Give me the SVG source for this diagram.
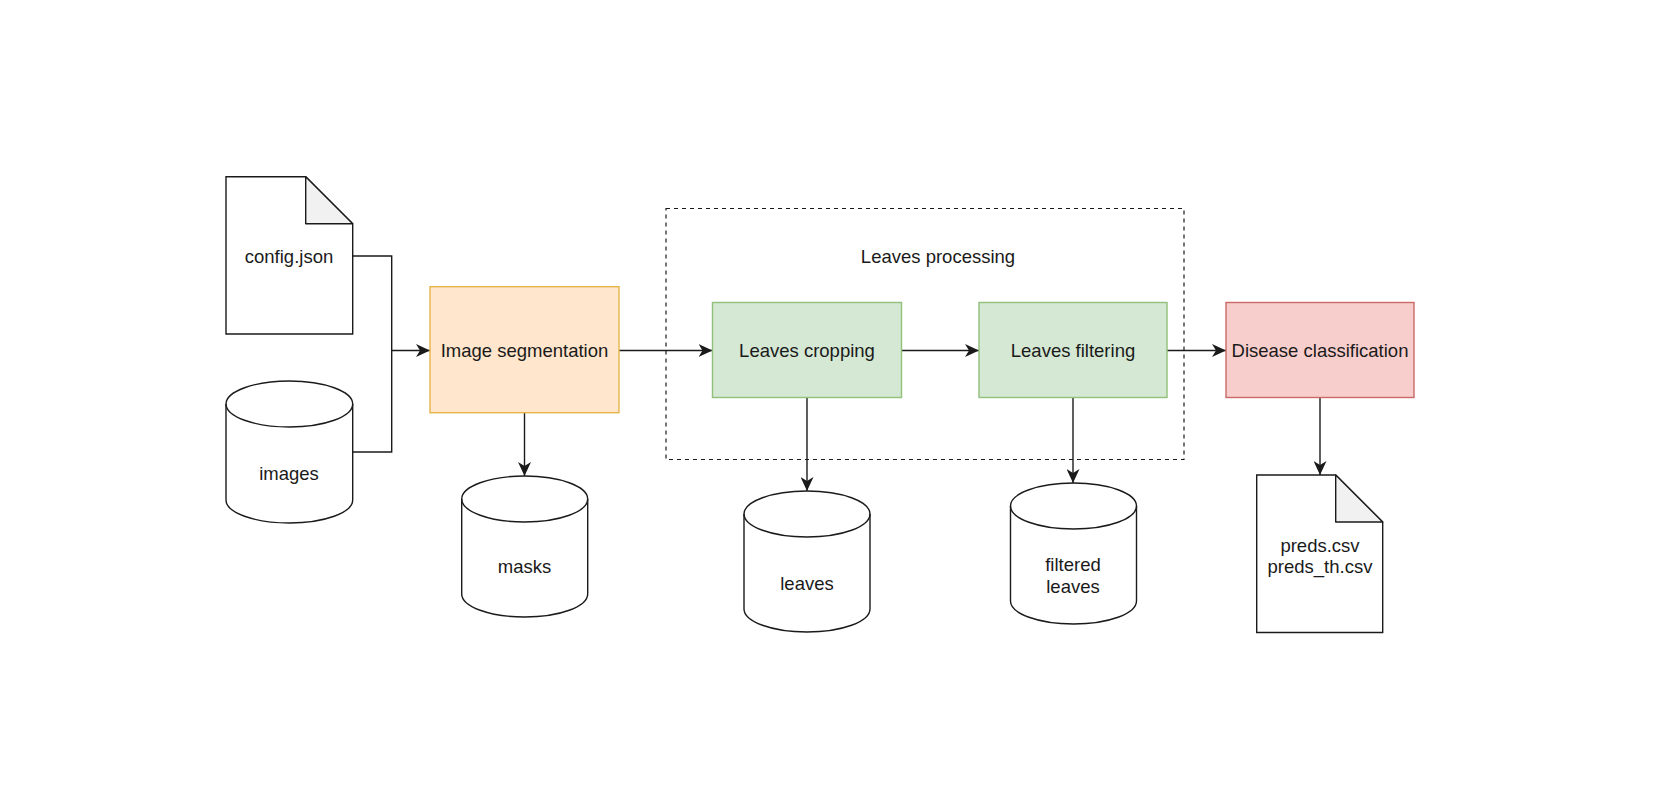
<svg xmlns="http://www.w3.org/2000/svg" width="1674" height="800" viewBox="0 0 1674 800">
<defs>
<style>
.shape{fill:#ffffff;stroke:#1a1a1a;stroke-width:1.4}
.fold{fill:#f1f1f1;stroke:#1a1a1a;stroke-width:1.4;stroke-linejoin:round}
.orange{fill:#ffe6cc;stroke:#e6b54a;stroke-width:1.4}
.green{fill:#d5e8d4;stroke:#90c07a;stroke-width:1.4}
.red{fill:#f8cecc;stroke:#c96a66;stroke-width:1.4}
.lbl{font-family:"Liberation Sans",Arial,sans-serif;font-size:18.5px;fill:#1a1a1a;text-anchor:middle}
.edge{fill:none;stroke:#1a1a1a;stroke-width:1.4}
.group{fill:none;stroke:#1a1a1a;stroke-width:1.2;stroke-dasharray:4 4}
</style>
<marker id="arr" markerUnits="userSpaceOnUse" markerWidth="15" markerHeight="13" viewBox="0 0 15 13" refX="14" refY="6.5" orient="auto">
<path d="M0,0 L14,6.5 L0,13 L4,6.5 Z" fill="#1a1a1a"/>
</marker>
</defs>
<rect width="1674" height="800" fill="#ffffff"/>

<g id="leaves-processing">
<rect class="group" x="666" y="208.5" width="518" height="251"/>
<text class="lbl" x="938" y="263">Leaves processing</text>
</g>

<g id="connectors">
<polyline class="edge" points="352.7,256 391.7,256 391.7,350.5 430,350.5" marker-end="url(#arr)"/>
<polyline class="edge" points="352.7,452 391.7,452 391.7,350.5"/>
<line class="edge" x1="619" y1="350.5" x2="712.5" y2="350.5" marker-end="url(#arr)"/>
<line class="edge" x1="901.5" y1="350.5" x2="979" y2="350.5" marker-end="url(#arr)"/>
<line class="edge" x1="1167" y1="350.5" x2="1226" y2="350.5" marker-end="url(#arr)"/>
<line class="edge" x1="524.5" y1="413" x2="524.5" y2="476" marker-end="url(#arr)"/>
<line class="edge" x1="807" y1="397.5" x2="807" y2="491" marker-end="url(#arr)"/>
<line class="edge" x1="1073" y1="397.5" x2="1073" y2="483" marker-end="url(#arr)"/>
<line class="edge" x1="1320" y1="397.5" x2="1320" y2="475" marker-end="url(#arr)"/>
</g>

<g id="config">
<path class="shape" d="M226,176.7 H305.7 L352.7,223.7 V334 H226 Z"/>
<path class="fold" d="M305.7,176.7 V223.7 H352.7 Z"/>
<text class="lbl" x="289" y="263">config.json</text>
</g>

<g id="images">
<path class="shape" d="M226,404 A63.35,23 0 0 1 352.7,404 L352.7,500 A63.35,23 0 0 1 226,500 Z"/>
<path class="edge" d="M226,404 A63.35,23 0 0 0 352.7,404"/>
<text class="lbl" x="289" y="479.5">images</text>
</g>

<g id="segmentation">
<rect class="orange" x="430" y="286.7" width="189" height="126"/>
<text class="lbl" x="524.5" y="357">Image segmentation</text>
</g>

<g id="masks">
<path class="shape" d="M461.7,499 A63,23 0 0 1 587.7,499 L587.7,594 A63,23 0 0 1 461.7,594 Z"/>
<path class="edge" d="M461.7,499 A63,23 0 0 0 587.7,499"/>
<text class="lbl" x="524.5" y="573">masks</text>
</g>

<g id="cropping">
<rect class="green" x="712.5" y="302.5" width="189" height="95"/>
<text class="lbl" x="807" y="357">Leaves cropping</text>
</g>

<g id="leaves">
<path class="shape" d="M744,514 A63,23 0 0 1 870,514 L870,609 A63,23 0 0 1 744,609 Z"/>
<path class="edge" d="M744,514 A63,23 0 0 0 870,514"/>
<text class="lbl" x="807" y="590">leaves</text>
</g>

<g id="filtering">
<rect class="green" x="979" y="302.5" width="188" height="95"/>
<text class="lbl" x="1073" y="357">Leaves filtering</text>
</g>

<g id="filtered">
<path class="shape" d="M1010.5,506 A63,23 0 0 1 1136.5,506 L1136.5,601 A63,23 0 0 1 1010.5,601 Z"/>
<path class="edge" d="M1010.5,506 A63,23 0 0 0 1136.5,506"/>
<text class="lbl" x="1073" y="570.5">filtered</text>
<text class="lbl" x="1073" y="592.5">leaves</text>
</g>

<g id="disease">
<rect class="red" x="1226" y="302.5" width="188" height="95"/>
<text class="lbl" x="1320" y="357">Disease classification</text>
</g>

<g id="preds">
<path class="shape" d="M1256.7,475 H1335.7 L1382.7,522 V632.5 H1256.7 Z"/>
<path class="fold" d="M1335.7,475 V522 H1382.7 Z"/>
<text class="lbl" x="1320" y="551.5">preds.csv</text>
<text class="lbl" x="1320" y="573">preds_th.csv</text>
</g>
</svg>
